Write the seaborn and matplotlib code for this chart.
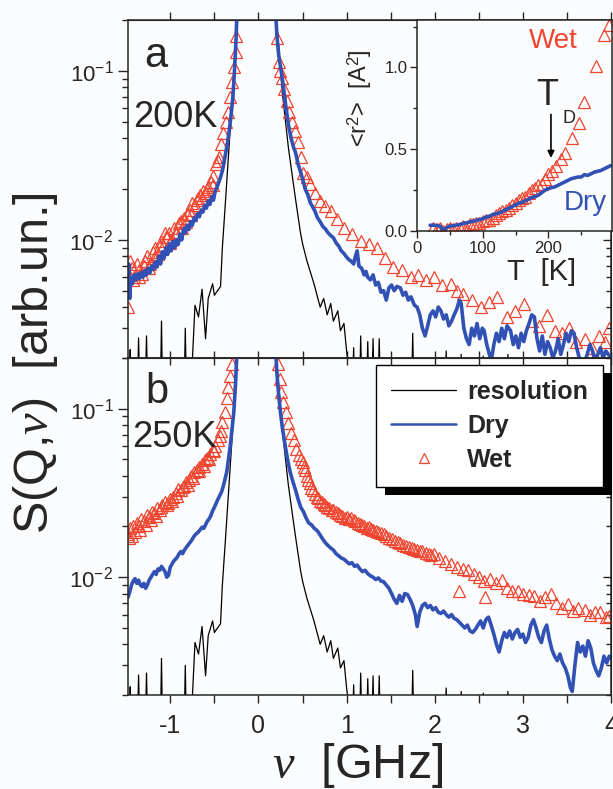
import numpy as np
import matplotlib
matplotlib.use("Agg")
import matplotlib.pyplot as plt
import matplotlib.patheffects as pe
from matplotlib.ticker import LogLocator, NullFormatter, MultipleLocator
import seaborn as sns

sns.set_style("ticks")
plt.rcParams['font.family'] = ['Liberation Sans', 'DejaVu Sans']
plt.rcParams['mathtext.fontset'] = 'custom'
plt.rcParams['mathtext.rm'] = 'Liberation Sans'
plt.rcParams['mathtext.it'] = 'Liberation Serif:italic'
plt.rcParams['axes.unicode_minus'] = False

RED = '#f0452f'
BLUE = '#3152b4'
BG = '#fbfcfe'

# resolution function (same in both panels); 0.0015 = below the axis
res_nu = [-1.50, -1.46, -1.455, -1.45, -1.37, -1.36, -1.35, -1.28, -1.27, -1.26,
          -1.11, -1.10, -1.09, -0.84, -0.83, -0.82, -0.76, -0.72, -0.68, -0.64,
          -0.60, -0.57, -0.52, -0.50, -0.43, -0.41, -0.375, -0.34, -0.30, -0.26,
          -0.235, -0.10, -0.03, 0.05, 0.19, 0.27, 0.34, 0.42, 0.477, 0.50,
          0.55, 0.63, 0.70, 0.74, 0.78, 0.82, 0.85, 0.90, 0.93, 0.97,
          1.00, 1.04, 1.07, 1.08, 1.09, 1.15, 1.16, 1.17, 1.23, 1.24,
          1.25, 1.29, 1.30, 1.31, 1.36, 1.37, 1.38, 1.74, 1.75, 1.76,
          2.12, 2.13, 2.14, 2.29, 2.30, 2.31, 2.54, 2.55, 2.56, 2.82,
          2.83, 2.84, 4.00]
res_s = [0.0015, 0.0015, 0.00224, 0.0015, 0.0015, 0.00263, 0.0015, 0.0015, 0.0027, 0.0015,
         0.0015, 0.0033, 0.0015, 0.0015, 0.0030, 0.0015, 0.0015, 0.0041, 0.0035, 0.0051,
         0.0026, 0.0045, 0.0055, 0.0047, 0.0053, 0.0089, 0.0166, 0.0316, 0.066, 0.138,
         0.25, 0.6, 1.0, 0.6, 0.25, 0.075, 0.035, 0.0175, 0.011, 0.0095,
         0.0075, 0.0055, 0.0040, 0.0045, 0.0036, 0.0042, 0.0033, 0.0038, 0.0029, 0.0032,
         0.0022, 0.0015, 0.0015, 0.0023, 0.0015, 0.0015, 0.0027, 0.0015, 0.0015, 0.0025,
         0.0015, 0.0015, 0.0026, 0.0015, 0.0015, 0.0026, 0.0015, 0.0015, 0.0028, 0.0015,
         0.0015, 0.0022, 0.0015, 0.0015, 0.0021, 0.0015, 0.0015, 0.00205, 0.0015, 0.0015,
         0.0021, 0.0015, 0.0015]

# panel a, 200 K, dry
dry200_nu = [-1.48, -1.47, -1.46, -1.45, -1.43, -1.41, -1.39, -1.37, -1.35, -1.33,
             -1.31, -1.29, -1.27, -1.25, -1.23, -1.21, -1.19, -1.17, -1.15, -1.13,
             -1.11, -1.09, -1.07, -1.05, -1.03, -1.01, -0.99, -0.97, -0.95, -0.93,
             -0.91, -0.89, -0.87, -0.85, -0.83, -0.81, -0.79, -0.77, -0.75, -0.73,
             -0.71, -0.69, -0.67, -0.65, -0.63, -0.61, -0.59, -0.57, -0.55, -0.53,
             -0.51, -0.49, -0.47, -0.45, -0.43, -0.41, -0.39, -0.37, -0.35, -0.33,
             -0.31, -0.29, -0.27, -0.255, -0.24, -0.03,
             0.19, 0.21, 0.23, 0.26, 0.285, 0.31, 0.34, 0.37, 0.40, 0.42,
             0.45, 0.48, 0.51, 0.53, 0.56, 0.59, 0.62, 0.64, 0.67, 0.70,
             0.73, 0.76, 0.79, 0.82, 0.85, 0.88, 0.91, 0.94, 0.97, 1.00,
             1.03, 1.05, 1.08, 1.10, 1.12, 1.14, 1.17, 1.20, 1.22, 1.24,
             1.27, 1.30, 1.33, 1.36, 1.39, 1.42, 1.45, 1.48, 1.51, 1.54,
             1.57, 1.61, 1.64, 1.67, 1.70, 1.73, 1.77, 1.80, 1.83, 1.86,
             1.89, 1.92, 1.95, 1.98, 2.01, 2.04, 2.07, 2.10, 2.13, 2.16,
             2.19, 2.22, 2.25, 2.28, 2.30, 2.33, 2.36, 2.39, 2.42, 2.45,
             2.48, 2.51, 2.54, 2.56, 2.59, 2.62, 2.64, 2.67, 2.70, 2.73,
             2.76, 2.79, 2.82, 2.86, 2.89, 2.92, 2.95, 2.98, 3.01, 3.04,
             3.07, 3.10, 3.13, 3.16, 3.19, 3.22, 3.25, 3.28, 3.31, 3.34,
             3.37, 3.40, 3.43, 3.46, 3.49, 3.52, 3.55, 3.58, 3.61, 3.64,
             3.67, 3.70, 3.73, 3.76, 3.79, 3.82, 3.85, 3.88, 3.91, 3.94,
             3.97, 4.00]
dry200_s = [0.0050, 0.0072, 0.0045, 0.0060, 0.0055, 0.0062, 0.0058, 0.0063, 0.0059, 0.0064,
            0.0060, 0.0066, 0.0062, 0.0068, 0.0064, 0.0070, 0.0067, 0.0074, 0.0069, 0.0080,
            0.0072, 0.0085, 0.0078, 0.0090, 0.0082, 0.0095, 0.0086, 0.0098, 0.0090, 0.0100,
            0.0094, 0.0108, 0.0100, 0.0116, 0.0110, 0.0122, 0.0115, 0.0128, 0.0122, 0.0135,
            0.0130, 0.0143, 0.0137, 0.0150, 0.0146, 0.0160, 0.0154, 0.0170, 0.0162, 0.0180,
            0.0172, 0.0195, 0.0205, 0.0220, 0.0235, 0.0255, 0.0290, 0.0330, 0.0380, 0.0450,
            0.0550, 0.0700, 0.1050, 0.150, 0.25, 1.0,
            0.25, 0.16, 0.124, 0.098, 0.079, 0.062, 0.048, 0.040, 0.035, 0.033,
            0.028, 0.025, 0.022, 0.020, 0.0185, 0.0165, 0.0155, 0.0148, 0.0135, 0.0128,
            0.0120, 0.0116, 0.0110, 0.0106, 0.0103, 0.0096, 0.0092, 0.0086, 0.0083, 0.0079,
            0.0076, 0.0075, 0.0072, 0.0080, 0.0086, 0.0070, 0.0068, 0.0062, 0.0065, 0.0060,
            0.0058, 0.0062, 0.0054, 0.0056, 0.0049, 0.0050, 0.0044, 0.0052, 0.0054, 0.0050,
            0.0053, 0.0052, 0.0047, 0.0049, 0.0044, 0.0046, 0.0041, 0.0040, 0.0036, 0.0030,
            0.0027, 0.0031, 0.0036, 0.0038, 0.0035, 0.0040, 0.0038, 0.0034, 0.0036, 0.0031,
            0.0033, 0.0036, 0.0039, 0.0044, 0.0042, 0.0030, 0.0026, 0.0024, 0.0030, 0.0027,
            0.0032, 0.0026, 0.0030, 0.0029, 0.0024, 0.0021, 0.0019, 0.0024, 0.0028, 0.0025,
            0.0030, 0.0026, 0.0031, 0.0029, 0.0024, 0.0027, 0.0023, 0.0028, 0.0025, 0.0029,
            0.0032, 0.0036, 0.0035, 0.0026, 0.0022, 0.0027, 0.0021, 0.0025, 0.0023, 0.0020,
            0.0022, 0.0026, 0.0021, 0.0024, 0.0028, 0.0025, 0.0029, 0.0028, 0.0023, 0.0020,
            0.0018, 0.0019, 0.0021, 0.0024, 0.0022, 0.0019, 0.0021, 0.0023, 0.0020, 0.0022,
            0.0021, 0.0020]

# panel a, 200 K, wet (triangles)
wet200_nu = [-1.48, -1.47, -1.46, -1.44, -1.42, -1.41, -1.38, -1.36, -1.35, -1.32,
             -1.30, -1.29, -1.26, -1.24, -1.23, -1.20, -1.18, -1.17, -1.14, -1.12,
             -1.11, -1.08, -1.06, -1.05, -1.02, -1.00, -0.99, -0.96, -0.94, -0.93,
             -0.90, -0.88, -0.87, -0.84, -0.82, -0.81, -0.78, -0.76, -0.75, -0.72,
             -0.70, -0.69, -0.66, -0.64, -0.63, -0.60, -0.58, -0.57, -0.54, -0.52,
             -0.51, -0.48, -0.46, -0.45, -0.42, -0.40, -0.37, -0.35, -0.32, -0.30,
             -0.28, -0.26, -0.25,
             0.21, 0.23, 0.25, 0.27, 0.29, 0.32, 0.35, 0.38, 0.41, 0.45,
             0.48, 0.51, 0.55, 0.59, 0.64, 0.70, 0.76, 0.82, 0.89, 0.97,
             1.06, 1.16, 1.25, 1.35, 1.44, 1.53, 1.63, 1.73, 1.81, 1.90,
             1.99, 2.08, 2.18, 2.25, 2.32, 2.42, 2.52, 2.62, 2.71, 2.82,
             2.91, 3.01, 3.10, 3.18, 3.27, 3.36, 3.44, 3.52, 3.60, 3.70,
             3.78, 3.86, 3.93, 3.98]
wet200_s = [0.0040, 0.0062, 0.0075, 0.0068, 0.0058, 0.0060, 0.0072, 0.0060, 0.0066, 0.0063,
            0.0070, 0.0075, 0.0080, 0.0068, 0.0072, 0.0085, 0.0078, 0.0090, 0.0082, 0.0092,
            0.0098, 0.0092, 0.0110, 0.0104, 0.0110, 0.0096, 0.0100, 0.0118, 0.0108, 0.0112,
            0.0125, 0.0130, 0.0118, 0.0135, 0.0128, 0.0142, 0.0150, 0.0140, 0.0166, 0.0160,
            0.0172, 0.0178, 0.0185, 0.0176, 0.0195, 0.0190, 0.0200, 0.0205, 0.0220, 0.0212,
            0.0240, 0.0280, 0.0292, 0.0310, 0.0370, 0.0430, 0.0500, 0.0570, 0.0700, 0.0860,
            0.1050, 0.1300, 0.1600,
            0.157, 0.113, 0.100, 0.091, 0.078, 0.066, 0.057, 0.050, 0.044, 0.038,
            0.031, 0.025, 0.0235, 0.0215, 0.019, 0.017, 0.0158, 0.0148, 0.0132, 0.0118,
            0.0108, 0.0099, 0.0094, 0.0090, 0.0078, 0.0069, 0.0066, 0.0060, 0.0062, 0.0058,
            0.0060, 0.0054, 0.0055, 0.0050, 0.0048, 0.0044, 0.0040, 0.0043, 0.0046, 0.0035,
            0.0038, 0.0042, 0.0033, 0.0031, 0.0036, 0.0029, 0.0028, 0.0030, 0.0025, 0.0026,
            0.0023, 0.0027, 0.0025, 0.0030]

# panel b, 250 K, dry
dry250_nu = [-1.48, -1.46, -1.44, -1.42, -1.40, -1.38, -1.36, -1.34, -1.32, -1.30,
             -1.28, -1.26, -1.24, -1.22, -1.20, -1.18, -1.16, -1.14, -1.12, -1.10,
             -1.08, -1.06, -1.04, -1.02, -1.00, -0.98, -0.96, -0.94, -0.92, -0.90,
             -0.88, -0.86, -0.84, -0.82, -0.80, -0.78, -0.76, -0.74, -0.72, -0.70,
             -0.68, -0.66, -0.64, -0.62, -0.60, -0.58, -0.56, -0.54, -0.52, -0.50,
             -0.48, -0.46, -0.44, -0.42, -0.40, -0.38, -0.36, -0.34, -0.32, -0.30,
             -0.28, -0.26, -0.24, -0.03,
             0.19, 0.21, 0.23, 0.25, 0.27, 0.30, 0.33, 0.36, 0.39, 0.42,
             0.45, 0.48, 0.51, 0.54, 0.57, 0.60, 0.63, 0.67, 0.70, 0.73,
             0.76, 0.79, 0.82, 0.85, 0.88, 0.91, 0.94, 0.97, 1.00, 1.03,
             1.06, 1.09, 1.12, 1.15, 1.18, 1.21, 1.24, 1.27, 1.30, 1.33,
             1.36, 1.39, 1.42, 1.45, 1.48, 1.51, 1.54, 1.57, 1.60, 1.63,
             1.66, 1.69, 1.72, 1.75, 1.78, 1.80, 1.83, 1.86, 1.89, 1.92,
             1.95, 1.98, 2.01, 2.04, 2.07, 2.10, 2.13, 2.16, 2.19, 2.22,
             2.25, 2.28, 2.31, 2.34, 2.37, 2.40, 2.43, 2.46, 2.49, 2.52,
             2.55, 2.58, 2.61, 2.64, 2.67, 2.70, 2.73, 2.76, 2.79, 2.82,
             2.85, 2.88, 2.91, 2.94, 2.97, 3.00, 3.03, 3.06, 3.09, 3.12,
             3.15, 3.18, 3.21, 3.24, 3.27, 3.30, 3.33, 3.36, 3.39, 3.42,
             3.45, 3.48, 3.51, 3.54, 3.56, 3.59, 3.62, 3.65, 3.68, 3.71,
             3.74, 3.77, 3.80, 3.83, 3.86, 3.89, 3.92, 3.95, 3.98, 4.00]
dry250_s = [0.0076, 0.0082, 0.0090, 0.0095, 0.0098, 0.0092, 0.0096, 0.0090, 0.0088, 0.0092,
            0.0086, 0.0090, 0.0096, 0.0100, 0.0104, 0.0108, 0.0104, 0.0112, 0.0110, 0.0116,
            0.0112, 0.0108, 0.0100, 0.0103, 0.0115, 0.0120, 0.0125, 0.0128, 0.0132, 0.0138,
            0.0142, 0.0138, 0.0145, 0.0150, 0.0155, 0.0160, 0.0165, 0.0172, 0.0178, 0.0182,
            0.0186, 0.0192, 0.0198, 0.0195, 0.0205, 0.0215, 0.0222, 0.0232, 0.0248, 0.0260,
            0.0275, 0.0290, 0.0305, 0.0320, 0.0345, 0.0380, 0.0420, 0.0500, 0.0600, 0.0750,
            0.0950, 0.140, 0.25, 1.0,
            0.25, 0.160, 0.120, 0.095, 0.078, 0.062, 0.050, 0.042, 0.037, 0.033,
            0.029, 0.026, 0.0245, 0.0225, 0.0210, 0.0205, 0.0196, 0.0188, 0.0178, 0.0168,
            0.0160, 0.0154, 0.0149, 0.0145, 0.0138, 0.0134, 0.0130, 0.0128, 0.0124, 0.0120,
            0.0122, 0.0116, 0.0118, 0.0112, 0.0108, 0.0110, 0.0105, 0.0102, 0.0100, 0.0097,
            0.0099, 0.0095, 0.0094, 0.0090, 0.0086, 0.0080, 0.0074, 0.0070, 0.0078, 0.0072,
            0.0080, 0.0079, 0.0074, 0.0068, 0.0060, 0.0051, 0.0062, 0.0068, 0.0070, 0.0066,
            0.0068, 0.0064, 0.0066, 0.0062, 0.0061, 0.0063, 0.0060, 0.0058, 0.0060, 0.0057,
            0.0056, 0.0054, 0.0052, 0.0050, 0.0052, 0.0048, 0.0047, 0.0049, 0.0052, 0.0055,
            0.0050, 0.0056, 0.0058, 0.0052, 0.0046, 0.0040, 0.0036, 0.0042, 0.0047, 0.0044,
            0.0048, 0.0043, 0.0047, 0.0049, 0.0044, 0.0046, 0.0041, 0.0044, 0.0052, 0.0056,
            0.0050, 0.0044, 0.0041, 0.0048, 0.0052, 0.0043, 0.0037, 0.0034, 0.0032, 0.0035,
            0.0031, 0.0029, 0.0026, 0.0022, 0.0021, 0.0030, 0.0041, 0.0036, 0.0039, 0.0034,
            0.0042, 0.0038, 0.0031, 0.0028, 0.0026, 0.0029, 0.0034, 0.0031, 0.0034, 0.0033]

# panel b, 250 K, wet (triangles)
wet250_nu = [-1.48, -1.47, -1.46, -1.44, -1.42, -1.40, -1.38, -1.36, -1.34, -1.33,
             -1.30, -1.28, -1.27, -1.24, -1.22, -1.21, -1.18, -1.16, -1.15, -1.12,
             -1.10, -1.09, -1.06, -1.04, -1.03, -1.00, -0.98, -0.97, -0.94, -0.92,
             -0.91, -0.88, -0.86, -0.85, -0.82, -0.80, -0.79, -0.76, -0.74, -0.73,
             -0.70, -0.68, -0.67, -0.64, -0.62, -0.61, -0.58, -0.56, -0.55, -0.52,
             -0.50, -0.49, -0.46, -0.44, -0.43, -0.41, -0.38, -0.36, -0.34, -0.32,
             -0.30,
             0.22, 0.24, 0.26, 0.28, 0.31, 0.34, 0.37, 0.40, 0.43, 0.46,
             0.48, 0.50, 0.52, 0.53, 0.55, 0.56, 0.58, 0.60, 0.62, 0.64,
             0.66, 0.68, 0.70, 0.72, 0.74, 0.76, 0.78, 0.80, 0.83, 0.85,
             0.88, 0.90, 0.93, 0.95, 0.98, 1.00, 1.03, 1.05, 1.08, 1.10,
             1.13, 1.15, 1.18, 1.20, 1.23, 1.25, 1.28, 1.30, 1.33, 1.36,
             1.39, 1.42, 1.45, 1.48, 1.52, 1.55, 1.58, 1.61, 1.64, 1.67,
             1.71, 1.74, 1.77, 1.80, 1.83, 1.86, 1.90, 1.93, 1.96, 1.99,
             2.05, 2.12, 2.18, 2.25, 2.27, 2.32, 2.38, 2.44, 2.50, 2.56,
             2.57, 2.63, 2.70, 2.76, 2.82, 2.88, 2.94, 3.00, 3.07, 3.13,
             3.19, 3.25, 3.32, 3.38, 3.44, 3.51, 3.57, 3.63, 3.70, 3.76,
             3.82, 3.88, 3.94, 3.98]
wet250_s = [0.0180, 0.0172, 0.0195, 0.0176, 0.0200, 0.0185, 0.0210, 0.0200, 0.0190, 0.0222,
            0.0215, 0.0205, 0.0235, 0.0228, 0.0218, 0.0245, 0.0240, 0.0232, 0.0258, 0.0250,
            0.0262, 0.0270, 0.0280, 0.0268, 0.0275, 0.0292, 0.0285, 0.0300, 0.0315, 0.0305,
            0.0335, 0.0330, 0.0345, 0.0350, 0.0365, 0.0355, 0.0380, 0.0400, 0.0390, 0.0420,
            0.0435, 0.0425, 0.0450, 0.0470, 0.0460, 0.0495, 0.0510, 0.0500, 0.0540, 0.0570,
            0.0560, 0.0600, 0.0650, 0.0690, 0.0740, 0.0830, 0.0950, 0.1150, 0.1350, 0.1570,
            0.1850,
            0.185, 0.150, 0.125, 0.110, 0.095, 0.082, 0.072, 0.065, 0.058, 0.053,
            0.050, 0.048, 0.045, 0.043, 0.040, 0.038, 0.036, 0.034, 0.033, 0.031,
            0.030, 0.0295, 0.0285, 0.0280, 0.0272, 0.0268, 0.0262, 0.0258, 0.0252, 0.0250,
            0.0244, 0.0240, 0.0234, 0.0232, 0.0226, 0.0229, 0.0222, 0.0225, 0.0218, 0.0215,
            0.0210, 0.0208, 0.0204, 0.0202, 0.0196, 0.0198, 0.0192, 0.0190, 0.0188, 0.0185,
            0.0182, 0.0180, 0.0176, 0.0172, 0.0168, 0.0164, 0.0162, 0.0160, 0.0156, 0.0154,
            0.0152, 0.0150, 0.0147, 0.0145, 0.0144, 0.0143, 0.0140, 0.0138, 0.0136, 0.0137,
            0.0130, 0.0125, 0.0120, 0.0115, 0.0083, 0.0112, 0.0110, 0.0104, 0.0101, 0.0095,
            0.0076, 0.0098, 0.0093, 0.0096, 0.0086, 0.0083, 0.0083, 0.0080, 0.0078, 0.0077,
            0.0072, 0.0076, 0.0079, 0.0070, 0.0066, 0.0069, 0.0063, 0.0066, 0.0064, 0.0060,
            0.0062, 0.0062, 0.0058, 0.0059]

# inset: mean square displacement vs temperature
T_wet = [25, 30, 35, 40, 45, 50, 55, 60, 65, 70, 75, 80, 85, 90, 95, 100, 105, 110, 115, 120,
         125, 130, 135, 140, 145, 150, 155, 160, 165, 170, 175, 180, 185, 190, 195, 200, 205,
         212, 220, 226, 236, 246, 255, 272, 285, 292]
r2_wet = [0.02, 0.01, 0.02, 0.00, 0.01, 0.02, 0.01, 0.02, 0.02, 0.03, 0.02, 0.04, 0.04, 0.05,
          0.05, 0.06, 0.07, 0.07, 0.08, 0.10, 0.11, 0.12, 0.13, 0.14, 0.16, 0.17, 0.19, 0.20,
          0.21, 0.23, 0.25, 0.26, 0.28, 0.29, 0.32, 0.35, 0.37, 0.40, 0.44, 0.48, 0.57, 0.66,
          0.79, 1.01, 1.20, 1.26]
T_dry = [20, 25, 30, 35, 40, 45, 50, 55, 60, 65, 70, 75, 80, 85, 90, 95, 100, 105, 110, 115,
         120, 125, 130, 135, 140, 145, 150, 155, 160, 165, 170, 175, 180, 185, 190, 195, 200,
         205, 210, 215, 220, 225, 230, 235, 240, 245, 250, 255, 260, 265, 270, 275, 280, 285,
         290, 295]
r2_dry = [0.035, 0.036, 0.034, 0.030, 0.005, 0.020, 0.030, 0.033, 0.036, 0.040, 0.045, 0.050,
          0.055, 0.060, 0.065, 0.070, 0.075, 0.085, 0.090, 0.100, 0.105, 0.110, 0.120, 0.130,
          0.140, 0.150, 0.160, 0.170, 0.175, 0.185, 0.195, 0.205, 0.210, 0.220, 0.235, 0.250,
          0.260, 0.265, 0.270, 0.280, 0.290, 0.300, 0.310, 0.320, 0.325, 0.330, 0.330, 0.345,
          0.340, 0.350, 0.360, 0.365, 0.370, 0.380, 0.390, 0.400]

fig = plt.figure(figsize=(6.13, 7.89), dpi=100, facecolor=BG)
ax_a = fig.add_axes([0.2088, 0.5463, 0.7880, 0.4284])
ax_b = fig.add_axes([0.2088, 0.1191, 0.7880, 0.4272])
ax_in = fig.add_axes([0.6803, 0.7072, 0.3181, 0.2674])

line_kw = dict(estimator=None, sort=False)
for ax, d_nu, d_s, w_nu, w_s in [(ax_a, dry200_nu, dry200_s, wet200_nu, wet200_s),
                                 (ax_b, dry250_nu, dry250_s, wet250_nu, wet250_s)]:
    ax.set_facecolor(BG)
    sns.lineplot(x=res_nu, y=res_s, ax=ax, color='black', lw=0.9, label='resolution', **line_kw)
    sns.lineplot(x=w_nu, y=w_s, ax=ax, color=RED, linestyle='none', marker='^', ms=8,
                 mfc='none', mec=RED, mew=0.9, label='Wet', **line_kw)
    sns.lineplot(x=d_nu, y=d_s, ax=ax, color=BLUE, lw=2.6, label='Dry', **line_kw)
    ax.set_yscale('log')
    ax.set_xlim(-1.48, 4.0)
    ax.set_ylim(0.002, 0.2)
    ax.xaxis.set_major_locator(MultipleLocator(1))
    ax.xaxis.set_minor_locator(MultipleLocator(0.5))
    ax.yaxis.set_major_locator(LogLocator(base=10))
    ax.yaxis.set_minor_locator(LogLocator(base=10, subs=np.arange(2, 10)))
    ax.yaxis.set_minor_formatter(NullFormatter())
    ax.tick_params(axis='y', which='major', direction='out', length=7, width=1, labelsize=16)
    ax.tick_params(axis='y', which='minor', direction='out', length=4, width=1)
    ax.set_xlabel('')
    ax.set_ylabel('')
    for s in ax.spines.values():
        s.set_linewidth(1.1)
        s.set_visible(True)
    sec = ax.secondary_yaxis('right')
    sec.yaxis.set_major_locator(LogLocator(base=10))
    sec.yaxis.set_minor_locator(LogLocator(base=10, subs=np.arange(2, 10)))
    sec.yaxis.set_minor_formatter(NullFormatter())
    sec.tick_params(which='both', direction='in', labelright=False, width=1)
    sec.tick_params(which='major', length=6)
    sec.tick_params(which='minor', length=3.5)
    ax.get_legend().remove()

# x ticks: panel a has no labels, ticks out on the top edge
ax_a.tick_params(axis='x', which='both', direction='in', length=5, width=1, labelbottom=False)
top_a = ax_a.secondary_xaxis('top')
top_a.xaxis.set_major_locator(MultipleLocator(1))
top_a.xaxis.set_minor_locator(MultipleLocator(0.5))
top_a.tick_params(which='both', direction='out', length=6, width=1, labeltop=False)
ax_b.tick_params(axis='x', which='both', direction='out', length=6, width=1, labelsize=18, pad=8)
top_b = ax_b.secondary_xaxis('top')
top_b.xaxis.set_major_locator(MultipleLocator(1))
top_b.xaxis.set_minor_locator(MultipleLocator(0.5))
top_b.tick_params(which='both', direction='in', length=5, width=1, labeltop=False)

ax_a.text(0.058, 0.861, 'a', transform=ax_a.transAxes, fontsize=30, ha='center', va='baseline')
ax_a.text(0.010, 0.683, '200K', transform=ax_a.transAxes, fontsize=26, ha='left', va='baseline')
ax_b.text(0.060, 0.866, 'b', transform=ax_b.transAxes, fontsize=30, ha='center', va='baseline')
ax_b.text(0.008, 0.737, '250K', transform=ax_b.transAxes, fontsize=26, ha='left', va='baseline')

fig.text(0.058, 0.540, r'S(Q,$\nu$)  [arb.un.]', rotation=90, fontsize=35, ha='center', va='center')
fig.text(0.584, 0.030, r'$\nu$  [GHz]', fontsize=35, ha='center', va='center')

# legend in panel b
h, l = ax_b.get_legend_handles_labels()
order = [l.index('resolution'), l.index('Dry'), l.index('Wet')]
leg = ax_b.legend([h[i] for i in order], [l[i] for i in order], loc='upper right',
                  bbox_to_anchor=(0.984, 0.979), prop={'weight': 'bold', 'size': 18},
                  frameon=True, fancybox=False, framealpha=1, edgecolor='black',
                  handlelength=2.6, handletextpad=0.45, labelspacing=0.4, borderpad=0.6,
                  numpoints=1, borderaxespad=0)
leg.get_frame().set_linewidth(1.0)
leg.get_frame().set_facecolor('white')
leg.get_frame().set_path_effects([pe.SimplePatchShadow(offset=(6, -6), shadow_rgbFace='black', alpha=1),
                                  pe.Normal()])
leg_lines = leg.get_lines()
leg_lines[1].set_linewidth(1.8)
leg_lines[2].set_markersize(7)

# inset
ax_in.set_facecolor(BG)
sns.lineplot(x=T_wet, y=r2_wet, ax=ax_in, color=RED, linestyle='none', marker='^', ms=8.5,
             mfc='none', mec=RED, mew=0.9, **line_kw)
sns.lineplot(x=T_dry, y=r2_dry, ax=ax_in, color=BLUE, lw=2.6, **line_kw)
ax_in.set_xlim(0, 297)
ax_in.set_ylim(0, 1.29)
ax_in.xaxis.set_major_locator(MultipleLocator(100))
ax_in.xaxis.set_minor_locator(MultipleLocator(50))
ax_in.yaxis.set_major_locator(MultipleLocator(0.5))
ax_in.yaxis.set_minor_locator(MultipleLocator(0.25))
ax_in.yaxis.set_major_formatter(lambda v, p: f'{v:.1f}')
ax_in.tick_params(which='both', direction='out', width=1, labelsize=12, pad=2)
ax_in.tick_params(which='major', length=5)
ax_in.tick_params(which='minor', length=3)
ax_in.set_xlabel('')
ax_in.set_ylabel('')
for s in ax_in.spines.values():
    s.set_linewidth(1.1)
    s.set_visible(True)
ax_in.text(208, 1.16, 'Wet', color=RED, fontsize=20, ha='center', va='center')
ax_in.text(257, 0.17, 'Dry', color=BLUE, fontsize=20, ha='center', va='center')
ax_in.text(198, 0.83, 'T', fontsize=26, ha='center', va='center')
ax_in.text(231, 0.69, 'D', fontsize=13, ha='center', va='center')
ax_in.annotate('', xy=(204, 0.43), xytext=(204, 0.73),
               arrowprops=dict(arrowstyle='-|>', color='black', lw=1.2, mutation_scale=10))
fig.text(0.587, 0.876, r'<r$^2$>  [A$^2$]', rotation=90, fontsize=17, ha='center', va='center')
fig.text(0.883, 0.655, 'T  [K]', fontsize=21, ha='center', va='center')

fig.savefig('out.png', dpi=100, facecolor=BG)
